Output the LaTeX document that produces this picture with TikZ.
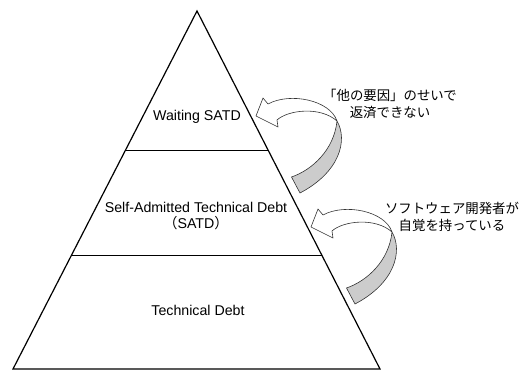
\documentclass[tikz,border=0pt]{standalone}
\usepackage{fontspec}
\setmainfont{Liberation Sans}
\newfontfamily\jp{Noto Sans CJK JP}
\usetikzlibrary{calc}
\tikzset{
  pyr/.style={line width=1.2pt, line join=miter},
  tier/.style={line width=0.7pt},
  ribedge/.style={line width=0.6pt, draw=black!80, line join=round},
  en/.style={font=\fontsize{14.2}{16}\selectfont, inner sep=0pt},
  ja/.style={font=\jp\fontsize{13.4}{17}\selectfont, inner sep=0pt, align=center},
  ribbon/.pic={
    \draw[ribedge, fill=white] (337,121) .. controls (330,100) and (290,92) .. (268,104)
      -- (263,98) -- (256,116) -- (278,127) -- (277,120)
      .. controls (288,110) and (320,106) .. (337,121) -- cycle;
    \draw[ribedge, fill=gray!40] (337,121) .. controls (348,140) and (340,172) .. (300,193)
      -- (291.5,177) .. controls (312,170) and (334,150) .. (337,121) -- cycle;
  }
}
\begin{document}
\begin{tikzpicture}[x=1pt,y=-1pt]
\useasboundingbox (0,0) rectangle (525,371);
\coordinate (apex) at (197,11);
\coordinate (bl) at (13,369);
\coordinate (br) at (380,369);
\draw[pyr] (apex) -- (br) -- (bl) -- cycle;
\coordinate (l1) at ($(apex)!0.390!(bl)$);
\coordinate (r1) at ($(apex)!0.390!(br)$);
\coordinate (l2) at ($(apex)!0.6835!(bl)$);
\coordinate (r2) at ($(apex)!0.6835!(br)$);
\draw[tier] (l1) -- (r1);
\draw[tier] (l2) -- (r2);
\node[en, anchor=base] (wait) at (197,120.7) {Waiting SATD};
\node[en, anchor=base, align=center] (satd) at (196,228.3) {Self-Admitted Technical Debt\\{\jp （}SATD{\jp ）}};
\node[en, anchor=base] (td) at (198,315.7) {Technical Debt};
\pic (arrowA) at (0,0) {ribbon};
\pic (arrowB) at (55,111) {ribbon};
\node[ja] (note1) at (390,103.5) {「他の要因」のせいで\\返済できない};
\node[ja] (note2) at (452,216.5) {ソフトウェア開発者が\\自覚を持っている};
\end{tikzpicture}
\end{document}
